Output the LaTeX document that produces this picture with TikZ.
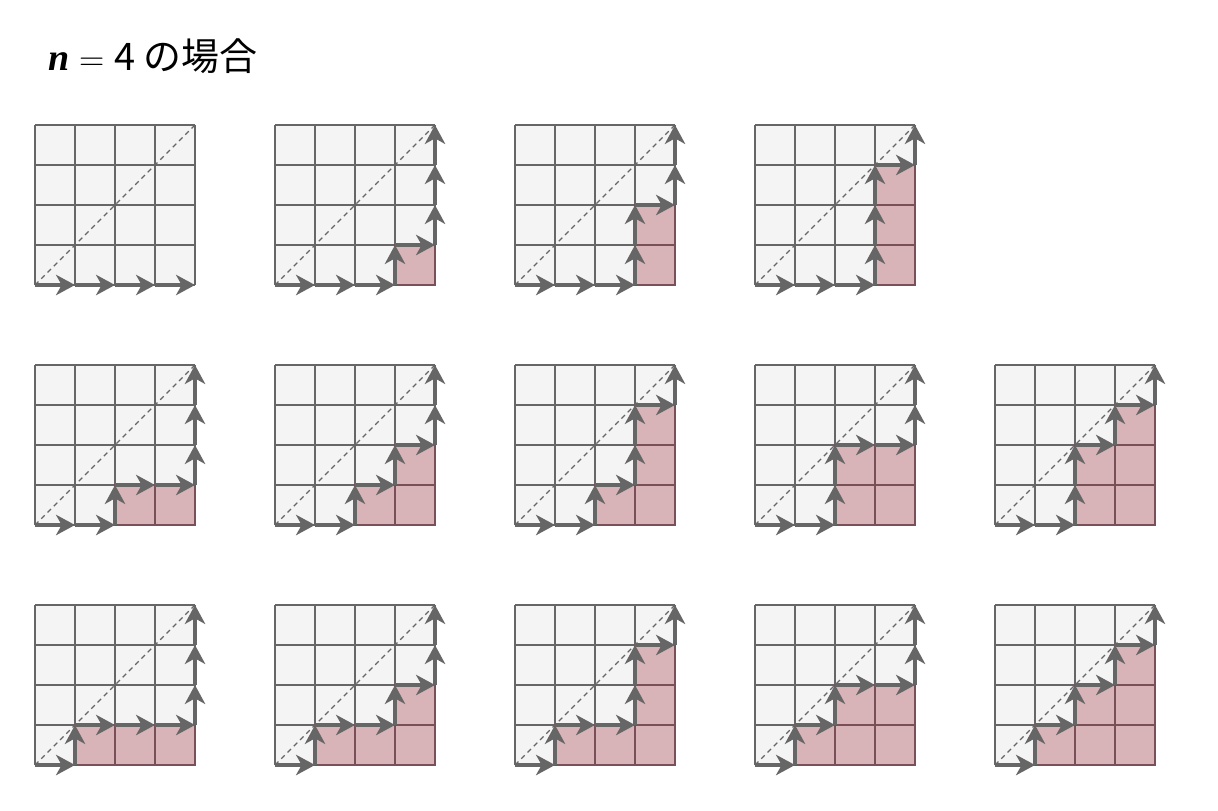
\documentclass[tikz,border=0pt]{standalone}
\usepackage{fontspec}
\usepackage{tikz}
\usetikzlibrary{arrows.meta}
\newfontfamily\jpfont{Noto Sans CJK JP}
\newfontfamily\titleserif{Liberation Serif}

\definecolor{linegray}{HTML}{666666}
\definecolor{cellgray}{HTML}{F4F4F4}
\definecolor{cellpink}{HTML}{D8B4B8}
\definecolor{edgepink}{HTML}{7A5058}

% one 4x4 grid: #1 = height reached at the end, #2 = lower-left corner,
% #3 = heights of the four east steps
\newcommand{\dyckgrid}[3][4]{%
  \begin{scope}[shift={#2}]
    \fill[cellgray] (0,0) rectangle (4,4);
    \draw[gridln] (0,0) grid (4,4);
    % cells under the path
    \foreach \h [count=\i from 0] in {#3} {
      \ifnum\h>0
        \foreach \k in {1,...,\h}
          \filldraw[pinkcell] (\i,\k-1) rectangle ++(1,1);
      \fi
    }
    % diagonal
    \draw[diag] (0,0) -- (4,4);
    % path steps
    \foreach \h [count=\i from 0, remember=\h as \lh (initially 0)] in {#3,#1} {
      \ifnum\h>\lh
        \pgfmathtruncatemacro\a{\lh+1}
        \foreach \k in {\a,...,\h}
          \draw[stepln] (\i,\k-1) -- (\i,\k);
      \fi
      \ifnum\i<4
        \draw[stepln] (\i,\h) -- (\i+1,\h);
      \fi
    }
  \end{scope}%
}

\begin{document}
\begin{tikzpicture}[
  gridln/.style={linegray,line width=1.4pt},
  pinkcell/.style={fill=cellpink,draw=edgepink,line width=1.4pt},
  diag/.style={linegray,line width=0.9pt,dash pattern=on 3.5pt off 2.8pt},
  stepln/.style={linegray,line width=2.2pt,
    -{Stealth[length=13.5pt,width=14.5pt,inset=4pt]}},
]
\useasboundingbox (0,0) rectangle (30.45,-20.25);

% ============================================================
% Title
% ============================================================
\node[anchor=base west,inner sep=0pt,font=\fontsize{27}{32}\selectfont]
  (title) at (1.2,-1.75)
  {{\titleserif\itshape\bfseries n}${}={}${\jpfont 4 の場合}};

% ============================================================
% First row
% ============================================================
\dyckgrid[0]{(0.875,-7.125)}{0,0,0,0}
\dyckgrid{(6.875,-7.125)}{0,0,0,1}
\dyckgrid{(12.875,-7.125)}{0,0,0,2}
\dyckgrid{(18.875,-7.125)}{0,0,0,3}

% ============================================================
% Second row
% ============================================================
\dyckgrid{(0.875,-13.125)}{0,0,1,1}
\dyckgrid{(6.875,-13.125)}{0,0,1,2}
\dyckgrid{(12.875,-13.125)}{0,0,1,3}
\dyckgrid{(18.875,-13.125)}{0,0,2,2}
\dyckgrid{(24.875,-13.125)}{0,0,2,3}

% ============================================================
% Third row
% ============================================================
\dyckgrid{(0.875,-19.125)}{0,1,1,1}
\dyckgrid{(6.875,-19.125)}{0,1,1,2}
\dyckgrid{(12.875,-19.125)}{0,1,1,3}
\dyckgrid{(18.875,-19.125)}{0,1,2,2}
\dyckgrid{(24.875,-19.125)}{0,1,2,3}

\end{tikzpicture}
\end{document}
